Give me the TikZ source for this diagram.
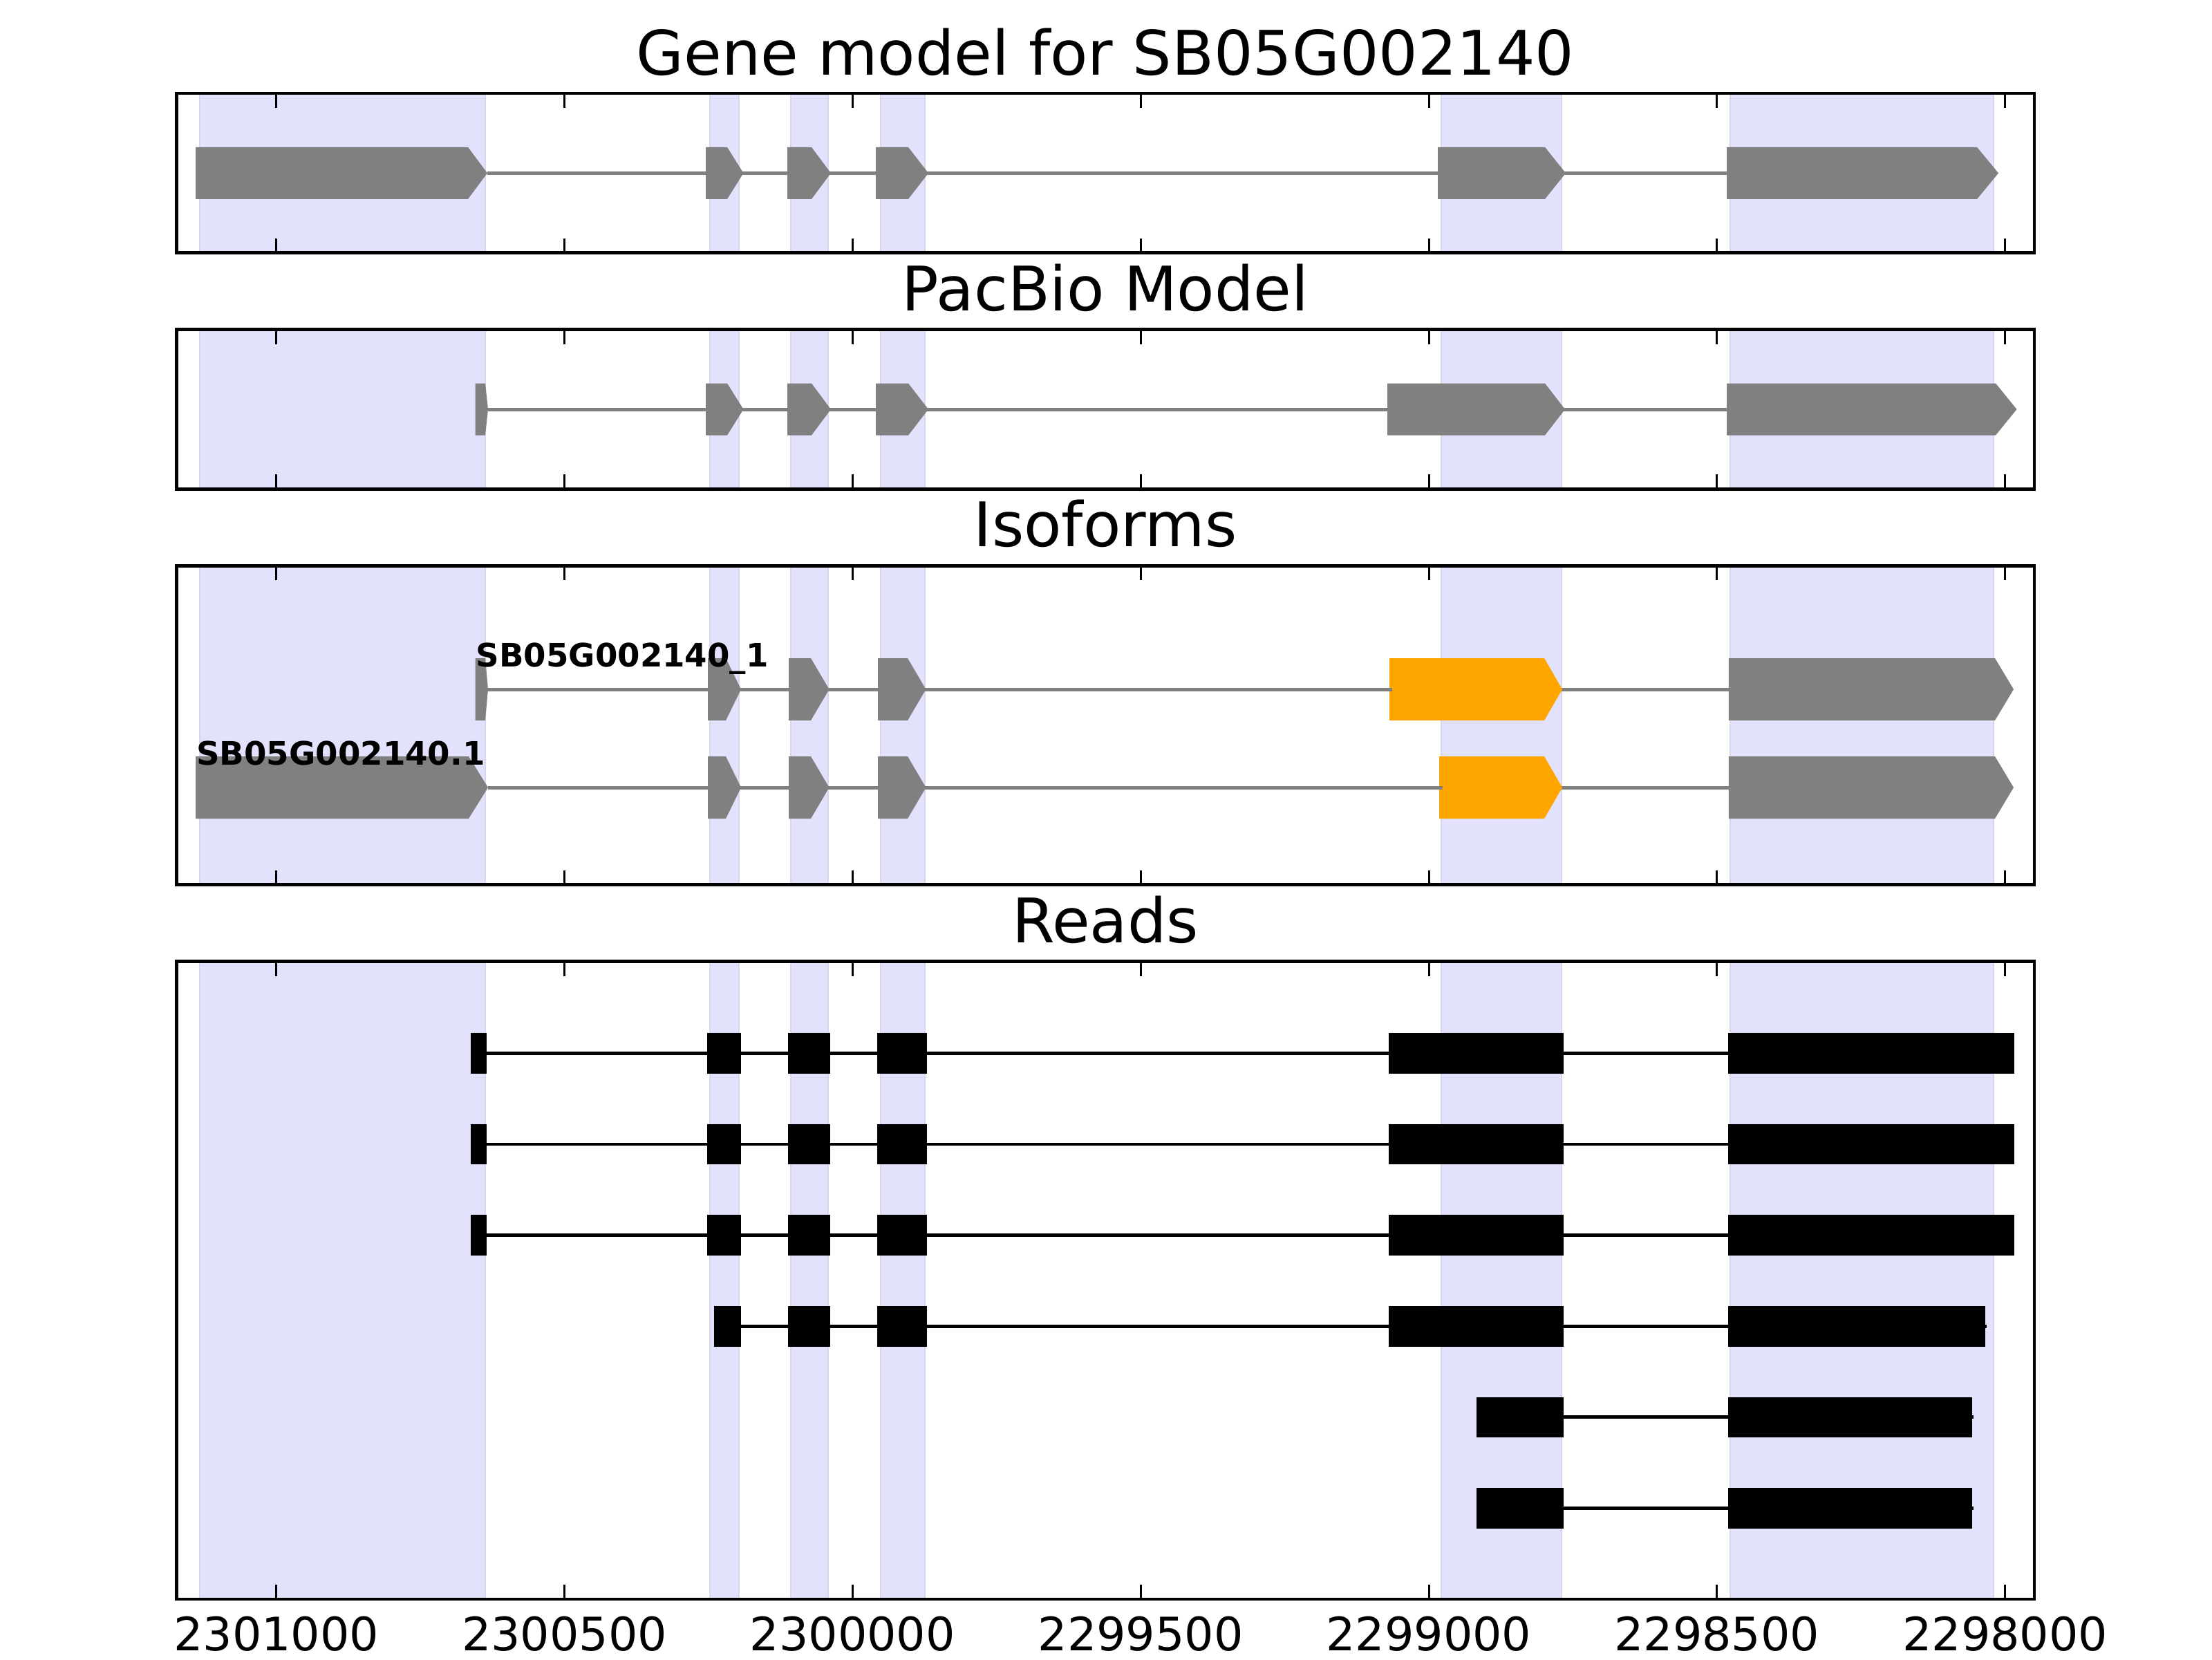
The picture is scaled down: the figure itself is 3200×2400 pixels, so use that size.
\documentclass[tikz,border=0pt]{standalone}
\usepackage{fontspec}
\setmainfont{DejaVu Sans}
\definecolor{bandfill}{RGB}{226,226,252}
\definecolor{bandedge}{RGB}{214,214,236}
\definecolor{exongray}{RGB}{128,128,128}
\definecolor{exonorange}{RGB}{255,165,0}
% x1 xbody xtip ycenter halfheight colour
\newcommand{\gexon}[6]{\fill[#6] (#1,#4-#5) -- (#2,#4-#5) -- (#3,#4) -- (#2,#4+#5) -- (#1,#4+#5) -- cycle;}
\newcommand{\shadeband}[2]{%
  \foreach \a/\b in {289/702,1027/1069,1144/1198,1274/1338,2085/2259,2503/2884}{%
    \fill[fill=bandfill] (\a,#1) rectangle (\b,#2);
    \draw[draw=bandedge,line width=0.45pt] (\a,#1) -- (\a,#2) (\b,#1) -- (\b,#2);}}
\newcommand{\frameticks}[2]{%
  \draw[spine] (255.5,#1) rectangle (2943,#2);
  \foreach \t in {399.8,816.6,1233.4,1650.2,2067.0,2483.8,2900.6}{%
    \draw[tickmark] (\t,#1) -- ++(0,21) (\t,#2) -- ++(0,-21);}}
\newcommand{\readblk}[3]{\fill[black] (#1,#3-29.3) rectangle (#2,#3+29.3);}
\begin{document}
\begin{tikzpicture}[x=0.18pt,y=-0.18pt,
  spine/.style={line width=0.85pt,black},
  tickmark/.style={line width=0.55pt,black},
  intron/.style={line width=0.9pt,exongray},
  readline/.style={line width=0.85pt,black},
  titletext/.style={font=\fontsize{16}{19}\selectfont,anchor=base,inner sep=0pt},
  ticklabel/.style={font=\fontsize{12}{14}\selectfont,anchor=base,inner sep=0pt},
  isolabel/.style={font=\fontsize{8.4}{10}\selectfont\bfseries,anchor=base west,inner sep=0pt}]
\useasboundingbox (0,0) rectangle (3200,2400);

% ---------- Panel 1: gene model ----------
\shadeband{135}{365.7}
\draw[intron] (705,250.4) -- (2498,250.4);
\gexon{283}{677}{705}{250.4}{37.5}{exongray}
\gexon{1021}{1052}{1075.5}{250.4}{37.5}{exongray}
\gexon{1139}{1174}{1202}{250.4}{37.5}{exongray}
\gexon{1267}{1314}{1343}{250.4}{37.5}{exongray}
\gexon{2080}{2235}{2265}{250.4}{37.5}{exongray}
\gexon{2498}{2860}{2891}{250.4}{37.5}{exongray}
\frameticks{135}{365.7}
\node[titletext] (t1) at (1599,108) {Gene model for SB05G002140};

% ---------- Panel 2: PacBio model ----------
\shadeband{476.7}{707.4}
\draw[intron] (706,592) -- (2498,592);
\gexon{687.5}{702}{706}{592}{37.5}{exongray}
\gexon{1021}{1052}{1075.5}{592}{37.5}{exongray}
\gexon{1139}{1174}{1202}{592}{37.5}{exongray}
\gexon{1267}{1314}{1343}{592}{37.5}{exongray}
\gexon{2007}{2235}{2264}{592}{37.5}{exongray}
\gexon{2498}{2887}{2917.5}{592}{37.5}{exongray}
\frameticks{476.7}{707.4}
\node[titletext] (t2) at (1599,449) {PacBio Model};

% ---------- Panel 3: isoforms ----------
\shadeband{818.4}{1279.8}
\draw[intron] (706,997) -- (2500.7,997);
\gexon{687.5}{702}{706}{997}{45}{exongray}
\gexon{1024}{1050}{1072}{997}{45}{exongray}
\gexon{1141}{1173}{1199.5}{997}{45}{exongray}
\gexon{1270}{1313}{1339.5}{997}{45}{exongray}
\gexon{2010}{2234}{2260}{997}{45}{exonorange}
\gexon{2500.7}{2886}{2913}{997}{45}{exongray}
\draw[intron] (2008,997) -- (2014,997);
\draw[intron] (706,1139) -- (2500.7,1139);
\gexon{283}{678}{706}{1139}{45}{exongray}
\gexon{1024}{1050}{1072}{1139}{45}{exongray}
\gexon{1141}{1173}{1199.5}{1139}{45}{exongray}
\gexon{1270}{1313}{1339.5}{1139}{45}{exongray}
\gexon{2082}{2234}{2260}{1139}{45}{exonorange}
\gexon{2500.7}{2886}{2913}{1139}{45}{exongray}
\draw[intron] (2080,1139) -- (2087,1139);
\node[isolabel] (lab1) at (687.5,964.5) {SB05G002140\textunderscore 1};
\node[isolabel] (lab2) at (283,1106.5) {SB05G002140.1};
\frameticks{818.4}{1279.8}
\node[titletext] (t3) at (1599,790.7) {Isoforms};

% ---------- Panel 4: reads ----------
\shadeband{1390.8}{2313}
\foreach \y in {1523.4,1655,1786.6}{%
  \draw[readline] (681,\y) -- (2914,\y);
  \readblk{681}{703.5}{\y}
  \readblk{1023}{1072.4}{\y}
  \readblk{1140}{1201}{\y}
  \readblk{1269}{1340.5}{\y}
  \readblk{2009}{2262}{\y}
  \readblk{2500}{2914}{\y}}
\draw[readline] (1033,1918.2) -- (2874,1918.2);
\readblk{1033}{1072.4}{1918.2}
\readblk{1140}{1201}{1918.2}
\readblk{1269}{1340.5}{1918.2}
\readblk{2009}{2262}{1918.2}
\readblk{2500}{2872}{1918.2}
\foreach \y in {2049.8,2181.4}{%
  \draw[readline] (2136,\y) -- (2854.5,\y);
  \readblk{2136}{2262}{\y}
  \readblk{2500}{2852.5}{\y}}
\frameticks{1390.8}{2313}
\node[titletext] (t4) at (1599,1363) {Reads};

% ---------- x tick labels ----------
\node[ticklabel] (x1) at (399.8,2387.7) {2301000};
\node[ticklabel] (x2) at (816.6,2387.7) {2300500};
\node[ticklabel] (x3) at (1233.4,2387.7) {2300000};
\node[ticklabel] (x4) at (1650.2,2387.7) {2299500};
\node[ticklabel] (x5) at (2067.0,2387.7) {2299000};
\node[ticklabel] (x6) at (2483.8,2387.7) {2298500};
\node[ticklabel] (x7) at (2900.6,2387.7) {2298000};
\end{tikzpicture}
\end{document}
